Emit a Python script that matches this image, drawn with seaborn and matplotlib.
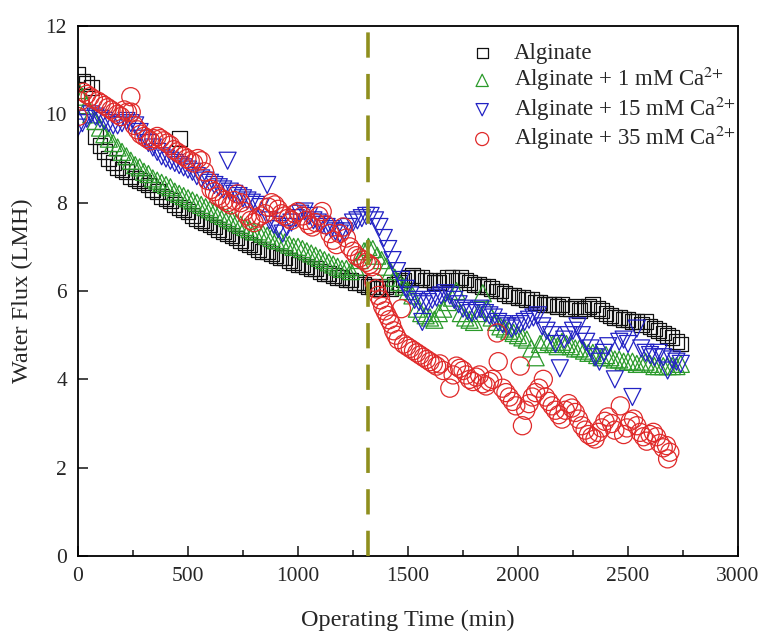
import matplotlib
matplotlib.use("Agg")
import matplotlib.pyplot as plt
import seaborn as sns
from matplotlib.ticker import MultipleLocator

# Alginate (black squares)
alg_t = [0, 20, 40, 60, 80, 100, 120, 140, 160, 180, 200, 220, 240, 260, 280, 300, 320, 340, 360, 380,
         400, 420, 440, 460, 462, 480, 500, 520, 540, 560, 580, 600, 620, 640, 660, 680, 700, 720, 740, 760,
         780, 800, 820, 840, 860, 880, 900, 920, 940, 960, 980, 1000, 1020, 1040, 1060, 1080, 1100, 1120,
         1140, 1160, 1180, 1200, 1220, 1240, 1260, 1280, 1300, 1320, 1340, 1360, 1380, 1400, 1420, 1440,
         1460, 1480, 1500, 1520, 1540, 1560, 1580, 1600, 1620, 1640, 1660, 1680, 1700, 1720, 1740, 1760,
         1780, 1800, 1820, 1840, 1860, 1880, 1900, 1920, 1940, 1960, 1980, 2000, 2020, 2040, 2060, 2080,
         2100, 2120, 2140, 2160, 2180, 2200, 2220, 2240, 2260, 2280, 2300, 2320, 2340, 2360, 2380, 2400,
         2420, 2440, 2460, 2480, 2500, 2520, 2540, 2560, 2580, 2600, 2620, 2640, 2660, 2680, 2700, 2720, 2740]
alg_flux = [10.9, 10.75, 10.7, 10.6, 9.5, 9.3, 9.15, 9.0, 8.9, 8.8, 8.75, 8.7, 8.6, 8.55, 8.5, 8.45, 8.4,
            8.3, 8.25, 8.15, 8.1, 8.05, 7.95, 7.9, 9.45, 7.85, 7.8, 7.7, 7.65, 7.6, 7.55, 7.5, 7.45, 7.4,
            7.35, 7.3, 7.25, 7.2, 7.15, 7.1, 7.05, 7.0, 6.95, 6.9, 6.9, 6.85, 6.8, 6.75, 6.75, 6.7, 6.65,
            6.6, 6.6, 6.55, 6.5, 6.5, 6.45, 6.4, 6.4, 6.35, 6.3, 6.3, 6.25, 6.25, 6.2, 6.2, 6.15, 6.1, 6.1,
            6.05, 6.05, 6.1, 6.05, 6.15, 6.2, 6.25, 6.3, 6.35, 6.3, 6.3, 6.25, 6.25, 6.2, 6.2, 6.25, 6.3,
            6.3, 6.25, 6.3, 6.25, 6.2, 6.15, 6.15, 6.1, 6.1, 6.05, 6.0, 6.0, 5.95, 5.9, 5.9, 5.85, 5.85,
            5.8, 5.8, 5.75, 5.75, 5.7, 5.7, 5.7, 5.65, 5.7, 5.6, 5.6, 5.65, 5.55, 5.6, 5.65, 5.7, 5.6,
            5.55, 5.5, 5.45, 5.4, 5.4, 5.35, 5.35, 5.3, 5.3, 5.25, 5.3, 5.2, 5.15, 5.1, 5.05, 5.0, 4.95,
            4.85, 4.8]

# Alginate + 1 mM Ca (green up triangles)
ca1_t = [0, 20, 40, 60, 80, 100, 120, 140, 160, 180, 200, 220, 240, 260, 280, 300, 320, 340, 360, 380,
         400, 420, 440, 460, 480, 500, 520, 540, 560, 580, 600, 620, 640, 660, 680, 700, 720, 740, 760,
         780, 800, 820, 840, 860, 880, 900, 920, 940, 960, 980, 1000, 1020, 1040, 1060, 1080, 1100, 1120,
         1140, 1160, 1180, 1200, 1220, 1240, 1260, 1280, 1300, 1320, 1340, 1360, 1380, 1400, 1420, 1440,
         1460, 1480, 1500, 1520, 1540, 1560, 1580, 1600, 1620, 1640, 1660, 1680, 1700, 1720, 1740, 1760,
         1780, 1800, 1820, 1840, 1860, 1880, 1900, 1920, 1940, 1960, 1980, 2000, 2020, 2040, 2060, 2080,
         2100, 2120, 2140, 2160, 2180, 2200, 2220, 2240, 2260, 2280, 2300, 2320, 2340, 2360, 2380, 2400,
         2420, 2440, 2460, 2480, 2500, 2520, 2540, 2560, 2580, 2600, 2620, 2640, 2660, 2680, 2700, 2720, 2740]
ca1_flux = [10.55, 10.4, 10.2, 10.0, 9.85, 9.7, 9.55, 9.45, 9.35, 9.25, 9.15, 9.05, 8.95, 8.85, 8.8, 8.7,
            8.65, 8.55, 8.5, 8.45, 8.4, 8.35, 8.25, 8.2, 8.15, 8.1, 8.05, 8.0, 7.95, 7.9, 7.85, 7.8, 7.75,
            7.7, 7.65, 7.6, 7.55, 7.5, 7.45, 7.4, 7.35, 7.35, 7.3, 7.25, 7.2, 7.15, 7.15, 7.1, 7.05, 7.0,
            7.0, 6.95, 6.9, 6.85, 6.8, 6.75, 6.7, 6.65, 6.6, 6.55, 6.5, 6.5, 6.45, 6.55, 6.7, 6.9, 7.0,
            6.95, 6.8, 6.7, 6.55, 6.45, 6.3, 6.2, 6.1, 6.0, 5.9, 5.6, 5.5, 5.45, 5.4, 5.35, 5.5, 5.6, 5.75,
            5.85, 6.0, 5.5, 5.4, 5.35, 5.3, 5.5, 5.95, 5.6, 5.4, 5.3, 5.2, 5.15, 5.1, 5.05, 5.0, 4.95, 4.9,
            4.7, 4.5, 4.8, 4.9, 4.85, 4.8, 4.75, 4.85, 4.8, 4.75, 4.7, 4.7, 4.65, 4.6, 4.6, 4.55, 4.5, 4.55,
            4.5, 4.45, 4.45, 4.4, 4.4, 4.4, 4.35, 4.35, 4.4, 4.35, 4.3, 4.3, 4.3, 4.3, 4.3, 4.3, 4.35]

# Alginate + 15 mM Ca (blue down triangles)
ca15_t = [0, 20, 40, 60, 80, 100, 120, 140, 160, 180, 200, 220, 240, 260, 280, 300, 320, 340, 360, 380,
          400, 420, 440, 460, 480, 500, 520, 540, 560, 580, 600, 620, 640, 660, 680, 690, 710, 730, 750,
          770, 790, 810, 830, 860, 870, 890, 910, 930, 950, 970, 990, 1010, 1030, 1050, 1070, 1090, 1110,
          1130, 1150, 1170, 1190, 1210, 1230, 1250, 1270, 1290, 1310, 1330, 1350, 1370, 1390, 1410, 1430,
          1450, 1470, 1490, 1510, 1530, 1550, 1565, 1570, 1590, 1610, 1630, 1650, 1670, 1690, 1710, 1730,
          1750, 1770, 1790, 1810, 1830, 1850, 1870, 1890, 1910, 1930, 1950, 1970, 1990, 2010, 2030, 2050,
          2070, 2090, 2110, 2130, 2150, 2170, 2190, 2210, 2230, 2250, 2270, 2290, 2310, 2330, 2350, 2370,
          2390, 2410, 2440, 2460, 2480, 2500, 2520, 2540, 2560, 2580, 2600, 2620, 2640, 2660, 2680, 2700,
          2720, 2740]
ca15_flux = [9.7, 9.8, 9.9, 10.0, 9.95, 9.9, 9.85, 9.8, 9.75, 9.75, 9.8, 9.85, 9.8, 9.75, 9.6, 9.45, 9.35,
             9.25, 9.15, 9.05, 9.0, 8.95, 8.9, 8.85, 8.8, 8.75, 8.7, 8.6, 8.55, 8.5, 8.45, 8.4, 8.35, 8.3,
             8.95, 8.25, 8.2, 8.15, 8.1, 8.05, 8.0, 7.95, 7.9, 8.4, 7.6, 7.5, 7.4, 7.3, 7.45, 7.55, 7.65,
             7.75, 7.8, 7.7, 7.6, 7.55, 7.5, 7.45, 7.4, 7.35, 7.3, 7.35, 7.45, 7.55, 7.6, 7.65, 7.7, 7.7,
             7.6, 7.45, 7.2, 6.95, 6.7, 6.45, 6.25, 6.05, 5.9, 5.8, 5.75, 5.3, 5.7, 5.75, 5.8, 5.85, 5.9,
             5.95, 5.9, 5.8, 5.7, 5.6, 5.55, 5.5, 5.55, 5.6, 5.5, 5.45, 5.4, 5.3, 5.25, 5.2, 5.15, 5.2,
             5.25, 5.3, 5.35, 5.4, 5.45, 5.2, 5.1, 5.0, 4.8, 4.25, 4.9, 5.0, 5.1, 5.2, 5.0, 4.85, 4.7, 4.5,
             4.4, 4.6, 4.75, 4.0, 4.85, 4.9, 4.8, 3.6, 5.15, 4.7, 4.6, 4.55, 4.5, 4.6, 4.5, 4.2, 4.45, 4.4,
             4.35]

# Alginate + 35 mM Ca (red circles)
ca35_t = [0, 10, 25, 40, 55, 70, 90, 105, 120, 135, 150, 165, 180, 195, 210, 225, 240, 242, 255, 270, 285,
          300, 315, 330, 345, 360, 375, 390, 405, 420, 435, 450, 465, 480, 495, 510, 525, 545, 560, 575,
          590, 605, 620, 635, 650, 665, 680, 695, 710, 725, 740, 755, 770, 785, 800, 815, 830, 850, 865,
          880, 895, 910, 925, 940, 955, 970, 985, 1000, 1020, 1035, 1050, 1065, 1080, 1095, 1110, 1125,
          1145, 1160, 1175, 1190, 1205, 1220, 1235, 1250, 1265, 1280, 1295, 1310, 1325, 1335, 1345, 1355,
          1365, 1375, 1385, 1395, 1405, 1415, 1425, 1435, 1445, 1455, 1470, 1480, 1495, 1510, 1525, 1540,
          1555, 1570, 1585, 1600, 1615, 1630, 1645, 1660, 1690, 1705, 1720, 1735, 1750, 1765, 1780, 1795,
          1810, 1825, 1840, 1855, 1870, 1885, 1905, 1910, 1930, 1945, 1960, 1975, 1990, 2010, 2020, 2035,
          2050, 2065, 2080, 2095, 2115, 2125, 2140, 2155, 2170, 2185, 2200, 2215, 2230, 2245, 2260, 2275,
          2290, 2305, 2320, 2335, 2350, 2365, 2380, 2395, 2410, 2425, 2440, 2465, 2480, 2495, 2510, 2525,
          2540, 2555, 2570, 2585, 2600, 2615, 2630, 2645, 2660, 2675, 2680, 2690]
ca35_flux = [9.95, 10.3, 10.5, 10.45, 10.4, 10.35, 10.3, 10.25, 10.2, 10.15, 10.1, 10.05, 10.0, 9.95,
             10.1, 10.05, 10.4, 10.05, 9.75, 9.65, 9.55, 9.5, 9.45, 9.4, 9.45, 9.5, 9.45, 9.4, 9.35, 9.3,
             9.2, 9.15, 9.1, 9.05, 9.0, 8.95, 8.9, 9.0, 8.95, 8.7, 8.5, 8.3, 8.25, 8.15, 8.1, 8.05, 8.0,
             7.95, 8.05, 8.2, 8.0, 7.8, 7.7, 7.6, 7.55, 7.65, 7.7, 7.75, 7.9, 8.0, 7.95, 7.85, 7.75, 7.7,
             7.65, 7.6, 7.75, 7.8, 7.7, 7.6, 7.5, 7.45, 7.55, 7.7, 7.8, 7.5, 7.3, 7.15, 7.05, 7.3, 7.45,
             7.2, 7.0, 6.9, 6.8, 6.75, 6.7, 6.65, 6.6, 6.55, 6.2, 6.05, 5.9, 5.8, 5.65, 5.55, 5.45, 5.35,
             5.25, 5.1, 5.0, 4.9, 5.6, 4.8, 4.75, 4.7, 4.65, 4.6, 4.55, 4.5, 4.45, 4.4, 4.35, 4.3, 4.35,
             4.2, 3.8, 4.1, 4.3, 4.25, 4.2, 4.1, 4.0, 3.95, 4.05, 4.1, 3.9, 3.85, 3.95, 4.0, 5.05, 4.4,
             3.8, 3.7, 3.6, 3.5, 3.4, 4.3, 2.95, 3.3, 3.45, 3.6, 3.7, 3.8, 4.0, 3.6, 3.5, 3.4, 3.3, 3.2,
             3.1, 3.3, 3.45, 3.35, 3.25, 3.1, 2.95, 2.85, 2.75, 2.7, 2.65, 2.8, 2.9, 3.05, 3.15, 3.0, 2.85,
             3.4, 2.75, 2.9, 3.05, 3.1, 2.95, 2.8, 2.7, 2.6, 2.75, 2.8, 2.7, 2.55, 2.45, 2.5, 2.2, 2.35]

labels = ["Alginate", "Alginate + 1 mM Ca$^{2{+}}$", "Alginate + 15 mM Ca$^{2{+}}$",
          "Alginate + 35 mM Ca$^{2{+}}$"]
dashed_time = 1320

sns.set_style("ticks")
plt.rcParams["font.family"] = ["Liberation Serif", "DejaVu Serif"]
plt.rcParams["mathtext.fontset"] = "stix"

fig = plt.figure(figsize=(7.64, 6.35), dpi=100)
ax = fig.add_axes([0.1021, 0.1244, 0.8639, 0.8346])

styles = [("s", "#111111", 115), ("^", "#2b9a2b", 150), ("v", "#2222c4", 150), ("o", "#e02a2a", 170)]
series = [(alg_t, alg_flux), (ca1_t, ca1_flux), (ca15_t, ca15_flux), (ca35_t, ca35_flux)]

for (t, f), (marker, color, size), label in zip(series, styles, labels):
    sns.scatterplot(x=t, y=f, marker=marker, s=size, color=color, facecolor="none",
                    edgecolor=color, linewidth=0.9, label=label, legend=False, ax=ax)

ax.axvline(dashed_time, color="#8f8f1e", lw=2.6, ls=(0, (7, 4.5)), zorder=5)

ax.set_xlim(0, 3000)
ax.set_ylim(0, 12)
ax.xaxis.set_major_locator(MultipleLocator(500))
ax.xaxis.set_minor_locator(MultipleLocator(250))
ax.yaxis.set_major_locator(MultipleLocator(2))
ax.tick_params(axis="both", which="major", direction="in", length=7, width=1.2, labelsize=15.5, pad=8)
ax.tick_params(axis="x", which="minor", direction="in", length=4, width=1.2)
for sp in ax.spines.values():
    sp.set_linewidth(1.3)
    sp.set_color("black")

ax.set_xlabel("Operating Time (min)", fontsize=17.5, labelpad=17)
ax.set_ylabel("Water Flux (LMH)", fontsize=17.5, labelpad=9)

ax.legend(loc="upper left", bbox_to_anchor=(0.595, 0.968), frameon=False, fontsize=16.5,
          handlelength=1.0, handletextpad=0.9, labelspacing=0.05, borderaxespad=0, borderpad=0,
          markerscale=0.72)

fig.savefig("out.png", dpi=100)
